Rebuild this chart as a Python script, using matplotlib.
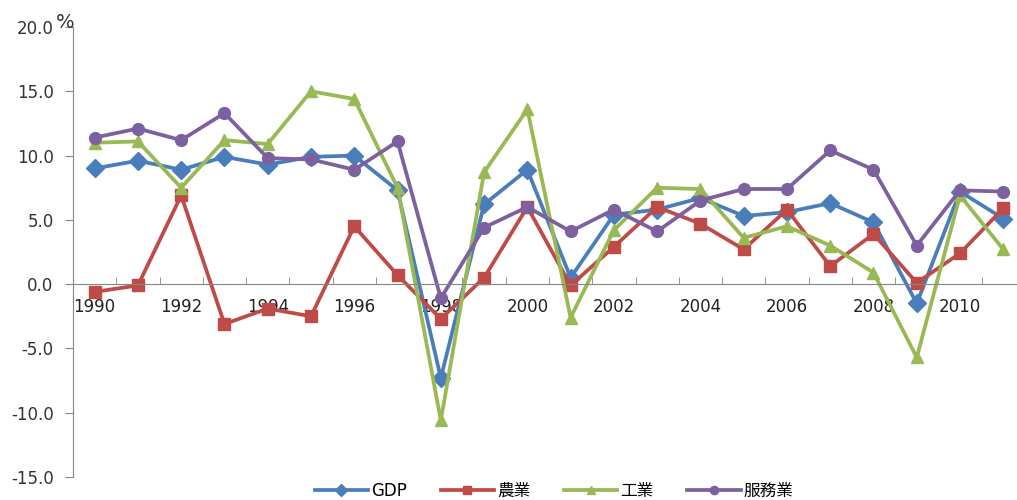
import numpy as np
import matplotlib.pyplot as plt
from matplotlib.ticker import FixedLocator, FuncFormatter

# ----------------------------
# Data (annual growth, %)
# ----------------------------
years = list(range(1990, 2012))

gdp = [9.0, 9.6, 8.9, 9.9, 9.3, 9.9, 10.0, 7.3, -7.3, 6.2, 8.9,
       0.5, 5.4, 5.8, 6.7, 5.3, 5.6, 6.3, 4.8, -1.5, 7.2, 5.1]
agri = [-0.6, -0.1, 6.9, -3.1, -1.9, -2.5, 4.5, 0.7, -2.7, 0.5, 6.0,
        -0.1, 2.9, 6.0, 4.7, 2.7, 5.8, 1.4, 3.9, 0.1, 2.4, 5.9]
industry = [11.0, 11.1, 7.5, 11.2, 10.9, 15.0, 14.4, 7.5, -10.6, 8.7, 13.6,
            -2.6, 4.2, 7.5, 7.4, 3.6, 4.5, 3.0, 0.9, -5.7, 6.9, 2.7]
services = [11.4, 12.1, 11.2, 13.3, 9.8, 9.7, 8.9, 11.1, -1.1, 4.4, 6.0,
            4.1, 5.8, 4.1, 6.5, 7.4, 7.4, 10.4, 8.9, 3.0, 7.3, 7.2]

labels = ["GDP", "農業", "工業", "服務業"]
y_ticks = [-15, -10, -5, 0, 5, 10, 15, 20]

# ----------------------------
# Style
# ----------------------------
plt.rcParams["font.family"] = ["DejaVu Sans", "Noto Sans CJK TC"]
plt.rcParams["axes.unicode_minus"] = False

series = [
    (gdp, "#4A7EBB", "D", 9),
    (agri, "#BE4B48", "s", 8),
    (industry, "#98B954", "^", 8.5),
    (services, "#7D60A0", "o", 8.5),
]

fig = plt.figure(figsize=(10.17, 5.0), dpi=100)
ax = fig.add_axes([0.0718, 0.046, 0.936, 0.900])

x = np.arange(len(years))
for (vals, color, marker, ms), name in zip(series, labels):
    ax.plot(x, vals, color=color, marker=marker, markersize=ms,
            linewidth=2.7, label=name, clip_on=False)

ax.set_xlim(-0.5, len(years) - 0.5)
ax.set_ylim(-15, 20)

# ----------------------------
# Axes
# ----------------------------
axis_gray = "#868686"
for side in ["top", "right"]:
    ax.spines[side].set_visible(False)
ax.spines["left"].set_color(axis_gray)
ax.spines["bottom"].set_color(axis_gray)
ax.spines["bottom"].set_position(("data", 0))

ax.yaxis.set_major_locator(FixedLocator(y_ticks))
ax.yaxis.set_major_formatter(FuncFormatter(lambda v, _: f"{v:.1f}"))
ax.tick_params(axis="y", length=6, color=axis_gray, labelsize=12,
               pad=8, labelcolor="#333333")

ax.set_xticks(x[::2], [str(y) for y in years[::2]])
ax.set_xticks(np.arange(-0.5, len(years), 1.0), minor=True)
ax.tick_params(axis="x", which="major", length=0, labelsize=12,
               pad=10, labelcolor="#222222")
ax.tick_params(axis="x", which="minor", direction="in", length=5,
               color=axis_gray)

fig.text(0.055, 0.955, "%", fontsize=14, ha="left", va="center",
         color="#333333")

ax.legend(loc="center", bbox_to_anchor=(0.545, 0.018),
          bbox_transform=fig.transFigure, ncol=4, frameon=False,
          fontsize=12, handlelength=3.2, columnspacing=2.0,
          handletextpad=0.2, markerscale=0.7)

fig.savefig("out.png", dpi=100)
